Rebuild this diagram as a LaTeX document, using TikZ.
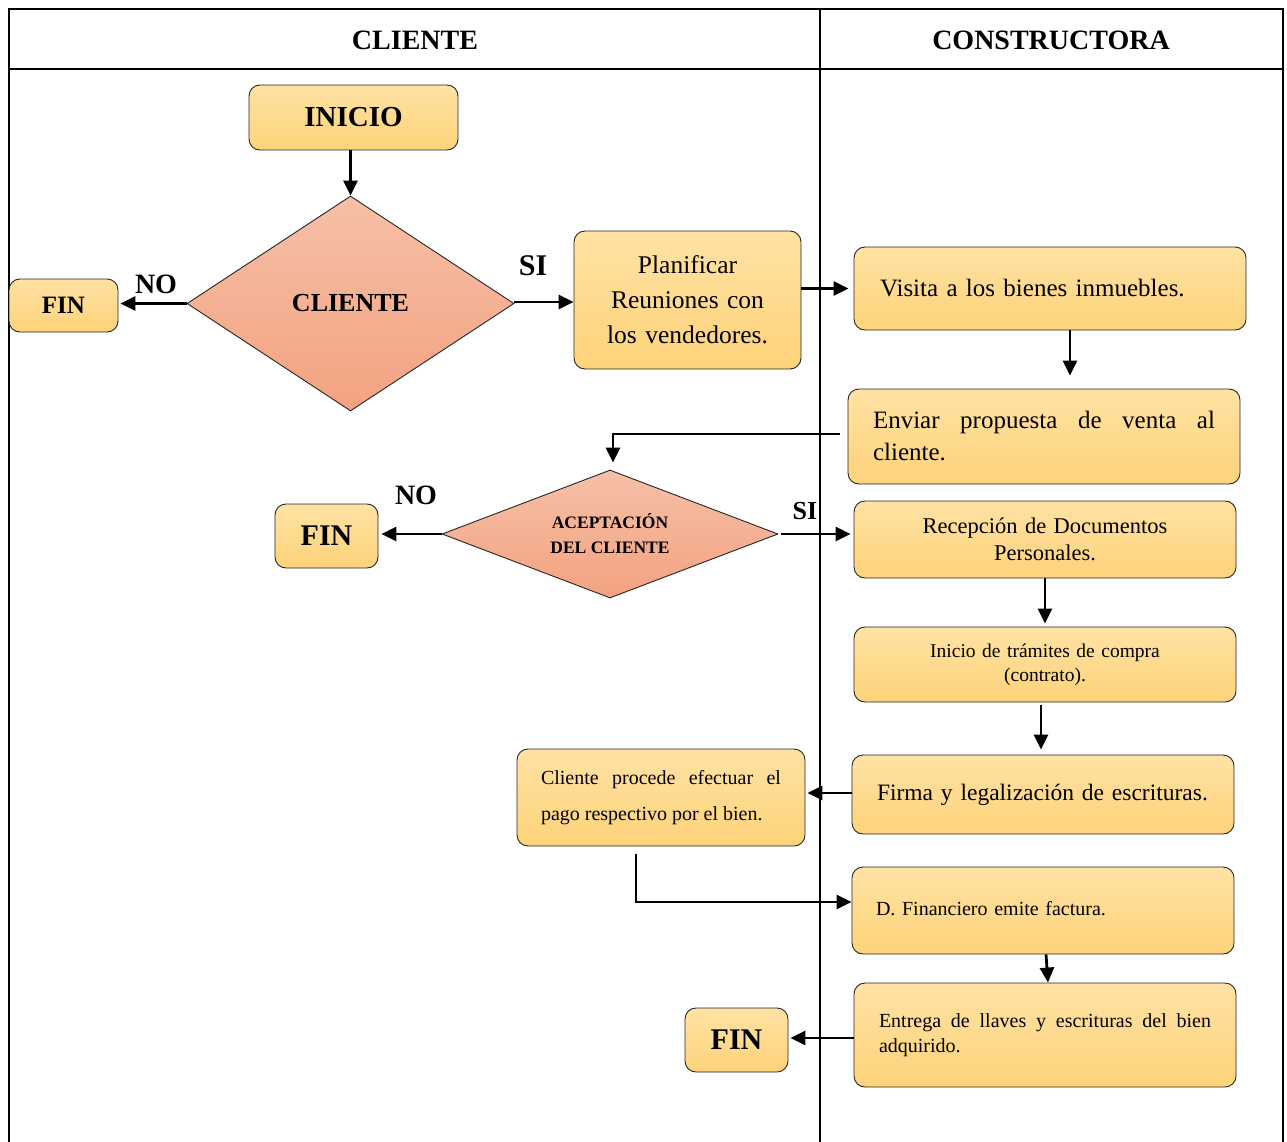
\documentclass[tikz,border=0pt]{standalone}
\usepackage{fontspec}
\setmainfont{Liberation Serif}
\usetikzlibrary{arrows.meta,shapes.geometric}
\definecolor{boxtop}{RGB}{255,226,164}
\definecolor{boxbot}{RGB}{254,211,122}
\definecolor{dtop}{RGB}{246,192,167}
\definecolor{dbot}{RGB}{243,162,128}
\newcommand{\fs}[2]{\fontsize{#1}{#2}\selectfont}
\begin{document}
\begin{tikzpicture}[x=1pt,y=-1pt,
  procbox/.style={draw=black!85, line width=0.9pt, rounded corners=11pt,
    top color=boxtop, bottom color=boxbot, inner sep=0pt},
  decbox/.style={diamond, draw=black!85, line width=0.9pt,
    top color=dtop, bottom color=dbot, inner sep=0pt, align=center},
  flow/.style={line width=2.8pt, -{Triangle[length=15pt,width=14pt]}},
  lane/.style={line width=1.8pt},
  tag/.style={font=\bfseries\fs{28}{30}}
]
\useasboundingbox (0,0) rectangle (1287,1142);
\fill[white] (0,0) rectangle (1287,1142);

% swimlane frame
\draw[lane] (9,1142) -- (9,9) -- (1283,9) -- (1283,1142);
\draw[lane] (9,69) -- (1283,69);
\draw[lane] (820,9) -- (820,1142);
\node[font=\bfseries\fs{28}{30}] (hcli) at (415,40) {CLIENTE};
\node[font=\bfseries\fs{28}{30}] (hcon) at (1051,40) {CONSTRUCTORA};

% client lane
\node[procbox, minimum width=209pt, minimum height=65pt, font=\bfseries\fs{29}{31}] (ini) at (353.5,117.5) {INICIO};
\node[decbox, minimum width=327pt, minimum height=215pt, font=\bfseries\fs{26}{28}] (d1) at (350.5,303.5) {CLIENTE};
\node[procbox, minimum width=109pt, minimum height=53pt, font=\bfseries\fs{25}{27}] (fin1) at (63.5,305.5) {FIN};
\node[procbox, minimum width=227pt, minimum height=138pt, text width=227pt, align=center, font=\fs{25.5}{35}] (plan) at (687.5,300) {Planificar\\Reuniones con\\los vendedores.};
\node[decbox, shape aspect=2.6, minimum width=336pt, minimum height=128pt, font=\bfseries\fs{17.5}{25}] (d2) at (610,534) {ACEPTACIÓN\\DEL CLIENTE};
\node[procbox, minimum width=103pt, minimum height=64pt, font=\bfseries\fs{30}{32}] (fin2) at (326.5,536) {FIN};
\node[procbox, minimum width=288pt, minimum height=97pt, text width=240pt, inner xsep=24pt, align=justify, font=\fs{20}{36}] (cli) at (661,797.5) {Cliente procede efectuar el pago respectivo por el bien.};
\node[procbox, minimum width=103pt, minimum height=64pt, font=\bfseries\fs{30}{32}] (fin3) at (736.5,1040) {FIN};

% constructora lane
\node[procbox, minimum width=392pt, minimum height=83pt, text width=340pt, inner xsep=26pt, align=left, font=\fs{25}{30}] (vis) at (1050,288.5) {Visita a los bienes inmuebles.};
\node[procbox, minimum width=392pt, minimum height=95pt, text width=342pt, inner xsep=25pt, align=justify, font=\fs{25}{32}] (env) at (1044,436.5) {Enviar propuesta de venta al cliente.};
\node[procbox, minimum width=382pt, minimum height=77pt, text width=382pt, align=center, font=\fs{22.5}{27}] (rec) at (1045,539.5) {Recepción de Documentos\\Personales.};
\node[procbox, minimum width=382pt, minimum height=75pt, text width=382pt, align=center, font=\fs{19.5}{24}] (tram) at (1045,664.5) {Inicio de trámites de compra\\(contrato).};
\node[procbox, minimum width=382pt, minimum height=79pt, text width=350pt, inner xsep=16pt, align=left, font=\fs{23.5}{28}] (firma) at (1043,794.5) {\hspace*{9pt}Firma y legalización de escrituras.};
\node[procbox, minimum width=382pt, minimum height=87pt, text width=334pt, inner xsep=24pt, align=left, font=\fs{20}{24}] (fact) at (1043,910.5) {\raisebox{4pt}{D. Financiero emite factura.}};
\node[procbox, minimum width=382pt, minimum height=104pt, text width=332pt, inner xsep=25pt, align=justify, font=\fs{20}{25}] (ent) at (1045,1035) {Entrega de llaves y escrituras del bien adquirido.};

% decision labels
\node[tag, font=\bfseries\fs{28}{30}] (no1) at (156,284) {NO};
\node[tag, font=\bfseries\fs{30}{32}] (si1) at (533,266) {SI};
\node[tag, font=\bfseries\fs{28}{30}] (no2) at (416,495) {NO};
\node[tag, font=\bfseries\fs{26}{28}] (si2) at (805,511) {SI};

% connectors
\draw[flow] (ini.south -| d1.north) -- (d1.north);
\draw[flow, shorten >=2pt] (d1.west) -- (d1.west -| fin1.east);
\draw[flow] ([yshift=1.5pt]d1.east) -- ([yshift=1.5pt]d1.east -| plan.west);
\draw[flow, shorten >=5pt] (plan.east |- vis.west) -- (vis.west);
\draw[flow, shorten >=13pt] ([xshift=20pt]vis.south) -- ([xshift=20pt]vis.south |- env.north);
\draw[flow, shorten >=7pt] ([xshift=-8pt,yshift=2.5pt]env.west) -| ([xshift=3pt]d2.north);
\draw[flow, shorten >=3pt] (d2.west) -- (d2.west -| fin2.east);
\draw[flow, shorten >=3pt] ([xshift=3pt]d2.east) -- (d2.east -| rec.west);
\draw[flow, shorten >=3pt] (rec.south) -- (rec.south |- tram.north);
\draw[flow, shorten <=3pt, shorten >=5pt] ([xshift=-2pt]firma.north |- tram.south) -- ([xshift=-2pt]firma.north);
\draw[flow, shorten >=2pt] ([yshift=1.5pt]firma.west) -- ([yshift=1.5pt]firma.west -| cli.east);
\draw[flow] ([xshift=-25pt,yshift=-8pt]cli.south) |- ([yshift=8.5pt]fact.west);
\draw[flow] ([xshift=3pt]fact.south) -- ([xshift=3pt]ent.north);
\draw[flow, shorten >=2pt] ([yshift=-3pt]ent.west) -- ([yshift=-3pt]ent.west -| fin3.east);
\end{tikzpicture}
\end{document}
